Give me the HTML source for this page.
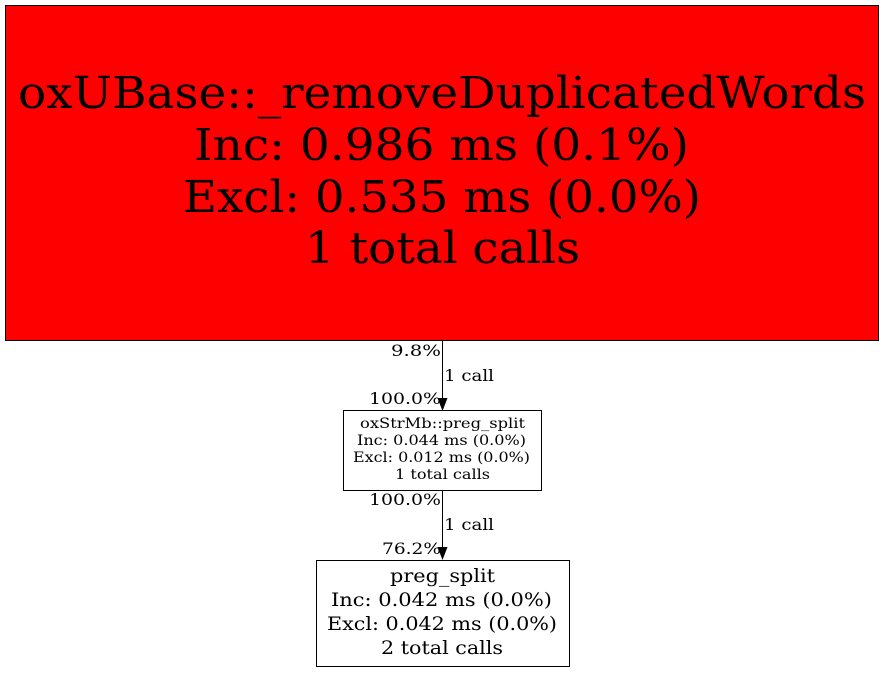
<!DOCTYPE html>
<html><head><style>html,body{margin:0;padding:0;background:#fff}</style></head>
<body>
<svg width="885" height="672" xmlns="http://www.w3.org/2000/svg" font-family="DejaVu Serif, serif">
<rect x="0" y="0" width="885" height="672" fill="#fff"/>
<rect x="5.5" y="5.5" width="873" height="335" fill="#ff0000" stroke="#000" stroke-width="1"/>
<g font-size="44" fill="#000">
<text x="18" y="108" textLength="848" lengthAdjust="spacingAndGlyphs">oxUBase::_removeDuplicatedWords</text>
<text x="194" y="160" textLength="495" lengthAdjust="spacingAndGlyphs">Inc: 0.986 ms (0.1%)</text>
<text x="183" y="212" textLength="518" lengthAdjust="spacingAndGlyphs">Excl: 0.535 ms (0.0%)</text>
<text x="305" y="263" textLength="275" lengthAdjust="spacingAndGlyphs">1 total calls</text>
</g>
<line x1="442.5" y1="341" x2="442.5" y2="400" stroke="#000"/>
<polygon points="437.5,398 447.5,398 442.5,411" fill="#000"/>
<g font-size="16" fill="#000">
<text x="391" y="356" textLength="50" lengthAdjust="spacingAndGlyphs">9.8%</text>
<text x="444" y="381" textLength="50" lengthAdjust="spacingAndGlyphs">1 call</text>
<text x="369" y="404" textLength="72" lengthAdjust="spacingAndGlyphs">100.0%</text>
<text x="369" y="505" textLength="72" lengthAdjust="spacingAndGlyphs">100.0%</text>
<text x="444" y="530" textLength="50" lengthAdjust="spacingAndGlyphs">1 call</text>
<text x="382" y="554" textLength="59" lengthAdjust="spacingAndGlyphs">76.2%</text>
</g>
<rect x="343.5" y="410.5" width="198" height="80" fill="#fff" stroke="#000"/>
<g font-size="14" fill="#000">
<text x="360" y="428" textLength="165" lengthAdjust="spacingAndGlyphs">oxStrMb::preg_split</text>
<text x="357" y="445" textLength="169" lengthAdjust="spacingAndGlyphs">Inc: 0.044 ms (0.0%)</text>
<text x="353" y="462" textLength="177" lengthAdjust="spacingAndGlyphs">Excl: 0.012 ms (0.0%)</text>
<text x="395" y="479" textLength="95" lengthAdjust="spacingAndGlyphs">1 total calls</text>
</g>
<line x1="442.5" y1="491" x2="442.5" y2="549" stroke="#000"/>
<polygon points="437.5,547 447.5,547 442.5,560" fill="#000"/>
<rect x="316.5" y="560.5" width="253" height="106" fill="#fff" stroke="#000"/>
<g font-size="19" fill="#000">
<text x="390" y="582" textLength="105" lengthAdjust="spacingAndGlyphs">preg_split</text>
<text x="331" y="606" textLength="221" lengthAdjust="spacingAndGlyphs">Inc: 0.042 ms (0.0%)</text>
<text x="327" y="630" textLength="230" lengthAdjust="spacingAndGlyphs">Excl: 0.042 ms (0.0%)</text>
<text x="381" y="654" textLength="122" lengthAdjust="spacingAndGlyphs">2 total calls</text>
</g>
</svg>
</body></html>
